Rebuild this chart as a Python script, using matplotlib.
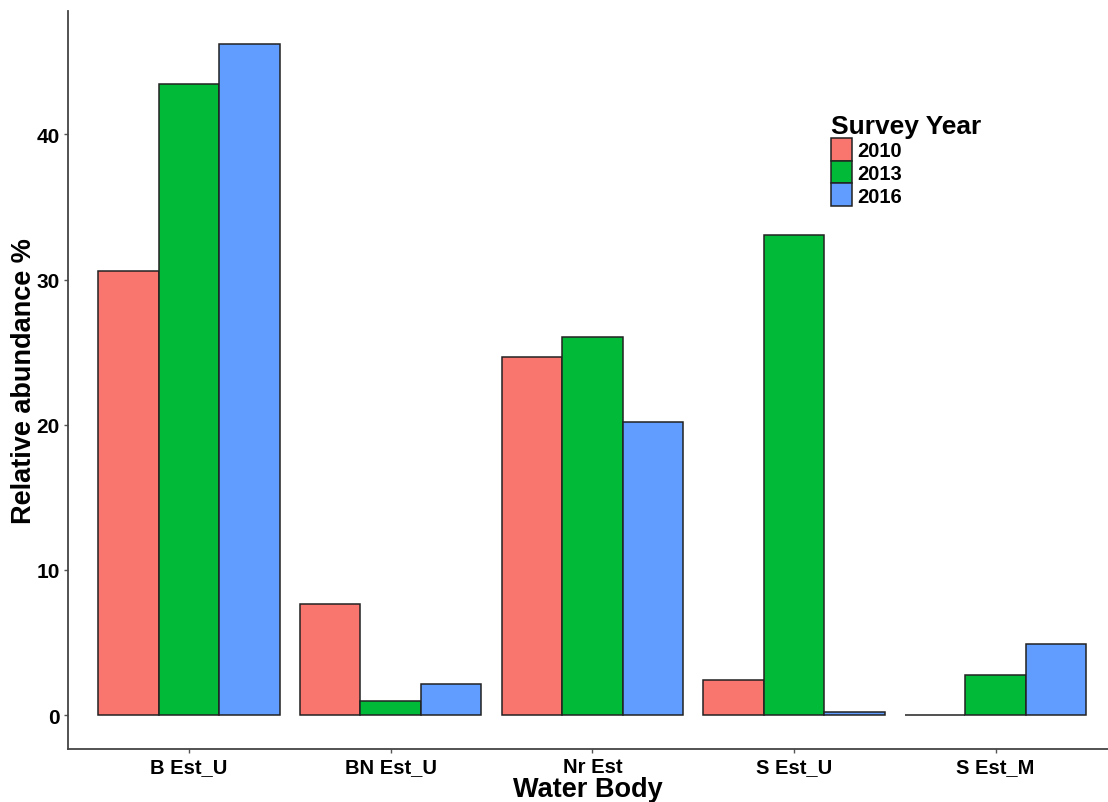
import matplotlib
matplotlib.use("Agg")
import matplotlib.pyplot as plt
import numpy as np

plt.rcParams.update({"font.family": ["Liberation Sans", "DejaVu Sans"], "font.weight": "bold"})

sites = ["B Est_U", "BN Est_U", "Nr Est", "S Est_U", "S Est_M"]
years = ["2010", "2013", "2016"]
v2010 = [30.6, 7.64, 24.65, 2.41, 0.0]
v2013 = [43.5, 1.01, 26.08, 33.1, 2.78]
v2016 = [46.25, 2.15, 20.2, 0.23, 4.89]
colors = ["#F8766D", "#00BA38", "#619CFF"]

W, H = 1108, 803
fig = plt.figure(figsize=(W / 100, H / 100), dpi=100)
ax = fig.add_axes([68 / W, (H - 750) / H, (W - 68) / W, (750 - 12) / H])

x = np.arange(1, len(sites) + 1)
bw = 0.3
for i, (vals, c, yr) in enumerate(zip([v2010, v2013, v2016], colors, years)):
    ax.bar(x + (i - 1) * bw, vals, width=bw, color=c, edgecolor="#222222",
           linewidth=1.1, label=yr)

ax.set_xlim(0.4, 5 + (W - 995.7) / 201.5)
ax.set_ylim(-2.33, 48.5)
ax.set_xticks(x)
ax.set_xticklabels(sites, fontsize=14.5, fontweight="bold")
ax.set_yticks([0, 10, 20, 30, 40])
ax.set_yticklabels(["0", "10", "20", "30", "40"], fontsize=15, fontweight="bold")
ax.tick_params(length=3, color="#555555", width=1, pad=3)
for s in ["top", "right"]:
    ax.spines[s].set_visible(False)
for s in ["left", "bottom"]:
    ax.spines[s].set_color("#444444")
    ax.spines[s].set_linewidth(1.3)
ax.set_xlabel("Water Body", fontsize=19.5, fontweight="bold", labelpad=0)
ax.set_ylabel("Relative abundance %", fontsize=19.5, fontweight="bold", labelpad=-0.5)

leg = ax.legend(title="Survey Year", loc="upper left",
                bbox_to_anchor=(831 / W, 1 - 115 / H), bbox_transform=fig.transFigure,
                frameon=False, fontsize=14.5, title_fontsize=19,
                handlelength=1.04, handleheight=1.36, labelspacing=0.0,
                handletextpad=0.25, borderpad=0, borderaxespad=0, alignment="left")
leg.get_title().set_fontweight("bold")

fig.savefig("out.png", dpi=100)
